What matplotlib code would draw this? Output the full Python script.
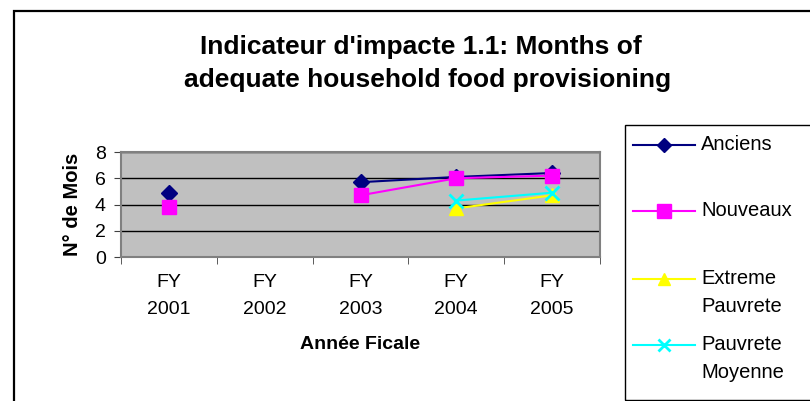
import numpy as np
import matplotlib
matplotlib.use("Agg")
import matplotlib.pyplot as plt
from matplotlib.lines import Line2D
from matplotlib.patches import Rectangle

# === DATA ===
years = ["FY\n2001", "FY\n2002", "FY\n2003", "FY\n2004", "FY\n2005"]
anciens = [4.9, np.nan, 5.7, 6.1, 6.4]
nouveaux = [3.8, np.nan, 4.7, 6.0, 6.2]
extreme_pauvrete = [np.nan, np.nan, np.nan, 3.7, 4.7]
pauvrete_moyenne = [np.nan, np.nan, np.nan, 4.3, 4.9]

series_names = ["Anciens", "Nouveaux", "Extreme\nPauvrete", "Pauvrete\nMoyenne"]
series_values = [anciens, nouveaux, extreme_pauvrete, pauvrete_moyenne]
series_colors = ["#000080", "#FF00FF", "#FFFF00", "#00FFFF"]
series_markers = ["D", "s", "^", "x"]
series_msize = [8, 10.5, 10, 10]

plt.rcParams["font.family"] = ["Liberation Sans", "DejaVu Sans"]

W, H = 810, 401
fig = plt.figure(figsize=(W / 100, H / 100), dpi=100, facecolor="white")

# outer chart frame (right and bottom edges fall outside the picture)
fig.patches.append(Rectangle((14 / W, -0.05), 1.0, 1 - 11 / H + 0.05,
                             transform=fig.transFigure, fill=False,
                             edgecolor="black", linewidth=1.6))

# === PLOT AREA ===
ax = fig.add_axes([121 / W, 1 - 257 / H, 479 / W, 105 / H])
ax.set_facecolor("#C0C0C0")
x = np.arange(len(years))
for vals, col, mk, ms in zip(series_values, series_colors, series_markers, series_msize):
    ax.plot(x, vals, color=col, marker=mk, markersize=ms, linewidth=1.5,
            markeredgewidth=2 if mk == "x" else 1, markeredgecolor=col, zorder=3)

ax.set_xlim(-0.5, len(years) - 0.5)
ax.set_ylim(0, 8)
ax.set_yticks([0, 2, 4, 6, 8])
ax.yaxis.grid(True, color="black", linewidth=1)
ax.set_axisbelow(True)
ax.set_xticks(x)
ax.set_xticklabels(years, linespacing=1.8)
ax.set_xticks(np.arange(-0.5, len(years)), minor=True)
ax.tick_params(axis="x", which="major", length=0, pad=12, labelsize=14)
ax.tick_params(axis="x", which="minor", length=5, color="#404040", direction="out")
ax.tick_params(axis="y", length=5, color="#404040", labelsize=14, pad=6)
for s in ax.spines.values():
    s.set_color("#808080")
    s.set_linewidth(1.5)

ax.set_ylabel("N° de Mois", fontsize=14.5, fontweight="bold", labelpad=9)
ax.set_xlabel("Année Ficale", fontsize=14, fontweight="bold", labelpad=13)

fig.text(0.519, 1 - 47 / H, "Indicateur d'impacte 1.1: Months of",
         ha="center", va="center", fontsize=19, fontweight="bold")
fig.text(0.528, 1 - 80 / H, "adequate household food provisioning",
         ha="center", va="center", fontsize=19, fontweight="bold")

# === LEGEND (drawn by hand, box runs off the right edge) ===
fig.patches.append(Rectangle((625 / W, 1 - 400 / H), 1.0, (400 - 125) / H,
                             transform=fig.transFigure, fill=False,
                             edgecolor="black", linewidth=1.0))
entry_y = [145, 211, 279, 345]
for name, col, mk, ms, yy in zip(series_names, series_colors, series_markers,
                                 series_msize, entry_y):
    yf = 1 - yy / H
    fig.lines.append(Line2D([633 / W, 695 / W], [yf, yf], transform=fig.transFigure,
                            color=col, linewidth=1.5))
    fig.lines.append(Line2D([664 / W], [yf], transform=fig.transFigure, color=col,
                            marker=mk, markersize=ms * 0.9, markeredgecolor=col,
                            markeredgewidth=2 if mk == "x" else 1))
    for k, ln in enumerate(name.split("\n")):
        fig.text(701 / W, 1 - (yy + 28 * k) / H, ln, ha="left", va="center", fontsize=14.5)

fig.savefig("out.png", dpi=100, facecolor="white")
